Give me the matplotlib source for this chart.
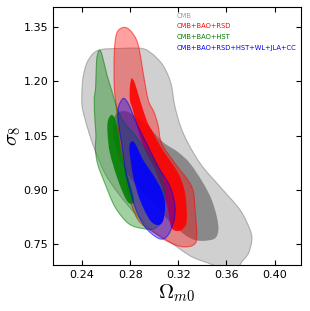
import numpy as np
import matplotlib.pyplot as plt
from matplotlib.path import Path
from matplotlib.patches import PathPatch
from matplotlib.colors import to_rgba

plt.rcParams['mathtext.fontset'] = 'cm'

# contour outlines (Omega_m0, sigma_8)
cmb_2s_x = [0.2562, 0.2714, 0.2895, 0.2978, 0.3061, 0.3114, 0.3145, 0.3172, 0.3241, 0.3381,
            0.3547, 0.3714, 0.3797, 0.3811, 0.3783, 0.3728, 0.3680, 0.3547, 0.3489, 0.3311,
            0.3145, 0.2978, 0.2839, 0.2700, 0.2589, 0.2506, 0.2450, 0.2400, 0.2400, 0.2408,
            0.2437, 0.2492]
cmb_2s_y = [1.2886, 1.2914, 1.2914, 1.2775, 1.2499, 1.2176, 1.1853, 1.1300, 1.0566, 0.9737,
            0.9091, 0.8447, 0.7895, 0.7619, 0.7251, 0.7019, 0.6790, 0.6790, 0.6928, 0.7158,
            0.7528, 0.7895, 0.8356, 0.8909, 0.9461, 1.0105, 1.0657, 1.1300, 1.1853, 1.2129,
            1.2499, 1.2775]
cmb_1s_x = [0.2681, 0.2756, 0.2839, 0.2947, 0.3072, 0.3197, 0.3297, 0.3408, 0.3478, 0.3520,
            0.3533, 0.3505, 0.3422, 0.3339, 0.3256, 0.3131, 0.2964, 0.2814, 0.2714, 0.2664,
            0.2656]
cmb_1s_y = [1.1099, 1.1182, 1.1044, 1.0767, 1.0326, 1.0049, 0.9737, 0.9185, 0.8724, 0.8262,
            0.7895, 0.7666, 0.7599, 0.7619, 0.7757, 0.8116, 0.8724, 0.9276, 0.9828, 1.0381,
            1.0795]

rsd_2s_x = [0.2742, 0.2797, 0.2853, 0.2881, 0.2908, 0.2950, 0.2997, 0.3031, 0.3061, 0.3172,
            0.3311, 0.3339, 0.3353, 0.3325, 0.3228, 0.3116, 0.3006, 0.2866, 0.2783, 0.2742,
            0.2706, 0.2689, 0.2667, 0.2667, 0.2687]
rsd_2s_y = [1.3494, 1.3419, 1.3143, 1.2775, 1.2223, 1.1486, 1.1154, 1.0795, 1.0290, 0.9737,
            0.9091, 0.8447, 0.7710, 0.7481, 0.7434, 0.7572, 0.7804, 0.8171, 0.8909, 0.9828,
            1.0381, 1.1126, 1.1853, 1.2775, 1.3328]
rsd_1s_x = [0.2812, 0.2839, 0.2881, 0.2936, 0.2978, 0.3031, 0.3089, 0.3200, 0.3256, 0.3270,
            0.3241, 0.3189, 0.3139, 0.3114, 0.3072, 0.3006, 0.2922, 0.2864, 0.2822, 0.2797,
            0.2797]
rsd_1s_y = [1.2085, 1.1947, 1.1486, 1.0933, 1.0657, 1.0326, 1.0013, 0.9461, 0.8909, 0.8171,
            0.7942, 0.7867, 0.7978, 0.8447, 0.9000, 0.9552, 1.0105, 1.0657, 1.1209, 1.1486,
            1.1853]

hst_2s_x = [0.2539, 0.2562, 0.2603, 0.2645, 0.2687, 0.2747, 0.2839, 0.2931, 0.3006, 0.3056,
            0.3089, 0.3075, 0.3006, 0.2895, 0.2783, 0.2672, 0.2589, 0.2531, 0.2510, 0.2514,
            0.2506, 0.2500, 0.2512, 0.2520]
hst_2s_y = [1.2847, 1.2775, 1.2223, 1.1762, 1.1300, 1.0878, 1.0519, 1.0105, 0.9746, 0.9414,
            0.8917, 0.8262, 0.7942, 0.7942, 0.8080, 0.8539, 0.9185, 0.9690, 1.0105, 1.0519,
            1.0933, 1.1486, 1.1853, 1.2590]
hst_1s_x = [0.2639, 0.2672, 0.2700, 0.2722, 0.2764, 0.2814, 0.2831, 0.2789, 0.2747, 0.2689,
            0.2631, 0.2612, 0.2612]
hst_1s_y = [1.1071, 1.0980, 1.0610, 1.0105, 0.9552, 0.9000, 0.8668, 0.8641, 0.8862, 0.9359,
            1.0013, 1.0519, 1.0878]

all_2s_x = [0.2742, 0.2783, 0.2814, 0.2866, 0.2950, 0.3033, 0.3131, 0.3172, 0.3158, 0.3103,
            0.3033, 0.2922, 0.2839, 0.2770, 0.2728, 0.2700, 0.2702]
all_2s_y = [1.1533, 1.1394, 1.1154, 1.0748, 1.0196, 0.9643, 0.9091, 0.8539, 0.8080, 0.7710,
            0.7666, 0.7986, 0.8539, 0.9367, 1.0290, 1.0933, 1.1292]
all_1s_x = [0.2806, 0.2839, 0.2908, 0.2991, 0.3061, 0.3089, 0.3075, 0.3033, 0.2964, 0.2881,
            0.2825, 0.2797, 0.2793]
all_1s_y = [1.0334, 1.0290, 0.9828, 0.9414, 0.9000, 0.8632, 0.8171, 0.8033, 0.8171, 0.8724,
            0.9367, 0.9966, 1.0196]

labels = ['CMB', 'CMB+BAO+RSD', 'CMB+BAO+HST', 'CMB+BAO+RSD+HST+WL+JLA+CC']
colors = ['gray', 'red', 'green', 'blue']
label_colors = ['#9a9a9a', 'red', 'green', 'blue']

xticks = [0.24, 0.28, 0.32, 0.36, 0.40]
yticks = [0.75, 0.90, 1.05, 1.20, 1.35]


def smooth_path(xs, ys):
    # closed catmull-rom outline through the traced points
    p = np.column_stack([xs, ys])
    n = len(p)
    verts = [p[0]]
    codes = [Path.MOVETO]
    for i in range(n):
        p0, p1, p2, p3 = p[i - 1], p[i], p[(i + 1) % n], p[(i + 2) % n]
        verts += [p1 + (p2 - p0) / 6, p2 - (p3 - p1) / 6, p2]
        codes += [Path.CURVE4] * 3
    verts.append(p[0])
    codes.append(Path.CLOSEPOLY)
    return Path(verts, codes)


def draw_contours(ax, outer, inner, color):
    ax.add_patch(PathPatch(smooth_path(*outer), facecolor=to_rgba(color, 0.37),
                           edgecolor=to_rgba(color, 0.55), lw=0.8))
    ax.add_patch(PathPatch(smooth_path(*inner), facecolor=to_rgba(color, 0.88),
                           edgecolor='none'))


fig = plt.figure(figsize=(3.1, 3.11), dpi=100)
ax = fig.add_axes([0.172, 0.148, 0.799, 0.8285])

contours = [
    ((cmb_2s_x, cmb_2s_y), (cmb_1s_x, cmb_1s_y)),
    ((rsd_2s_x, rsd_2s_y), (rsd_1s_x, rsd_1s_y)),
    ((hst_2s_x, hst_2s_y), (hst_1s_x, hst_1s_y)),
    ((all_2s_x, all_2s_y), (all_1s_x, all_1s_y)),
]
for (outer, inner), c in zip(contours, colors):
    draw_contours(ax, outer, inner, c)

ax.set_xlim(0.216, 0.422)
ax.set_ylim(0.693, 1.405)
ax.set_xticks(xticks)
ax.set_yticks(yticks)
ax.set_xticklabels(['%.2f' % t for t in xticks])
ax.set_yticklabels(['%.2f' % t for t in yticks])
ax.tick_params(direction='in', top=True, right=True, labelsize=8, length=3.5)
ax.set_xlabel(r'$\Omega_{m0}$', fontsize=15, labelpad=2)
ax.set_ylabel(r'$\sigma_8$', fontsize=15)
ax.yaxis.set_label_coords(-0.122, 0.5)

for i, (lab, lc) in enumerate(zip(labels, label_colors)):
    ax.text(0.498, 0.968 - i * 0.0415, lab, color=lc, fontsize=4.9,
            transform=ax.transAxes, va='center', ha='left')

fig.savefig('out.png', dpi=100)
